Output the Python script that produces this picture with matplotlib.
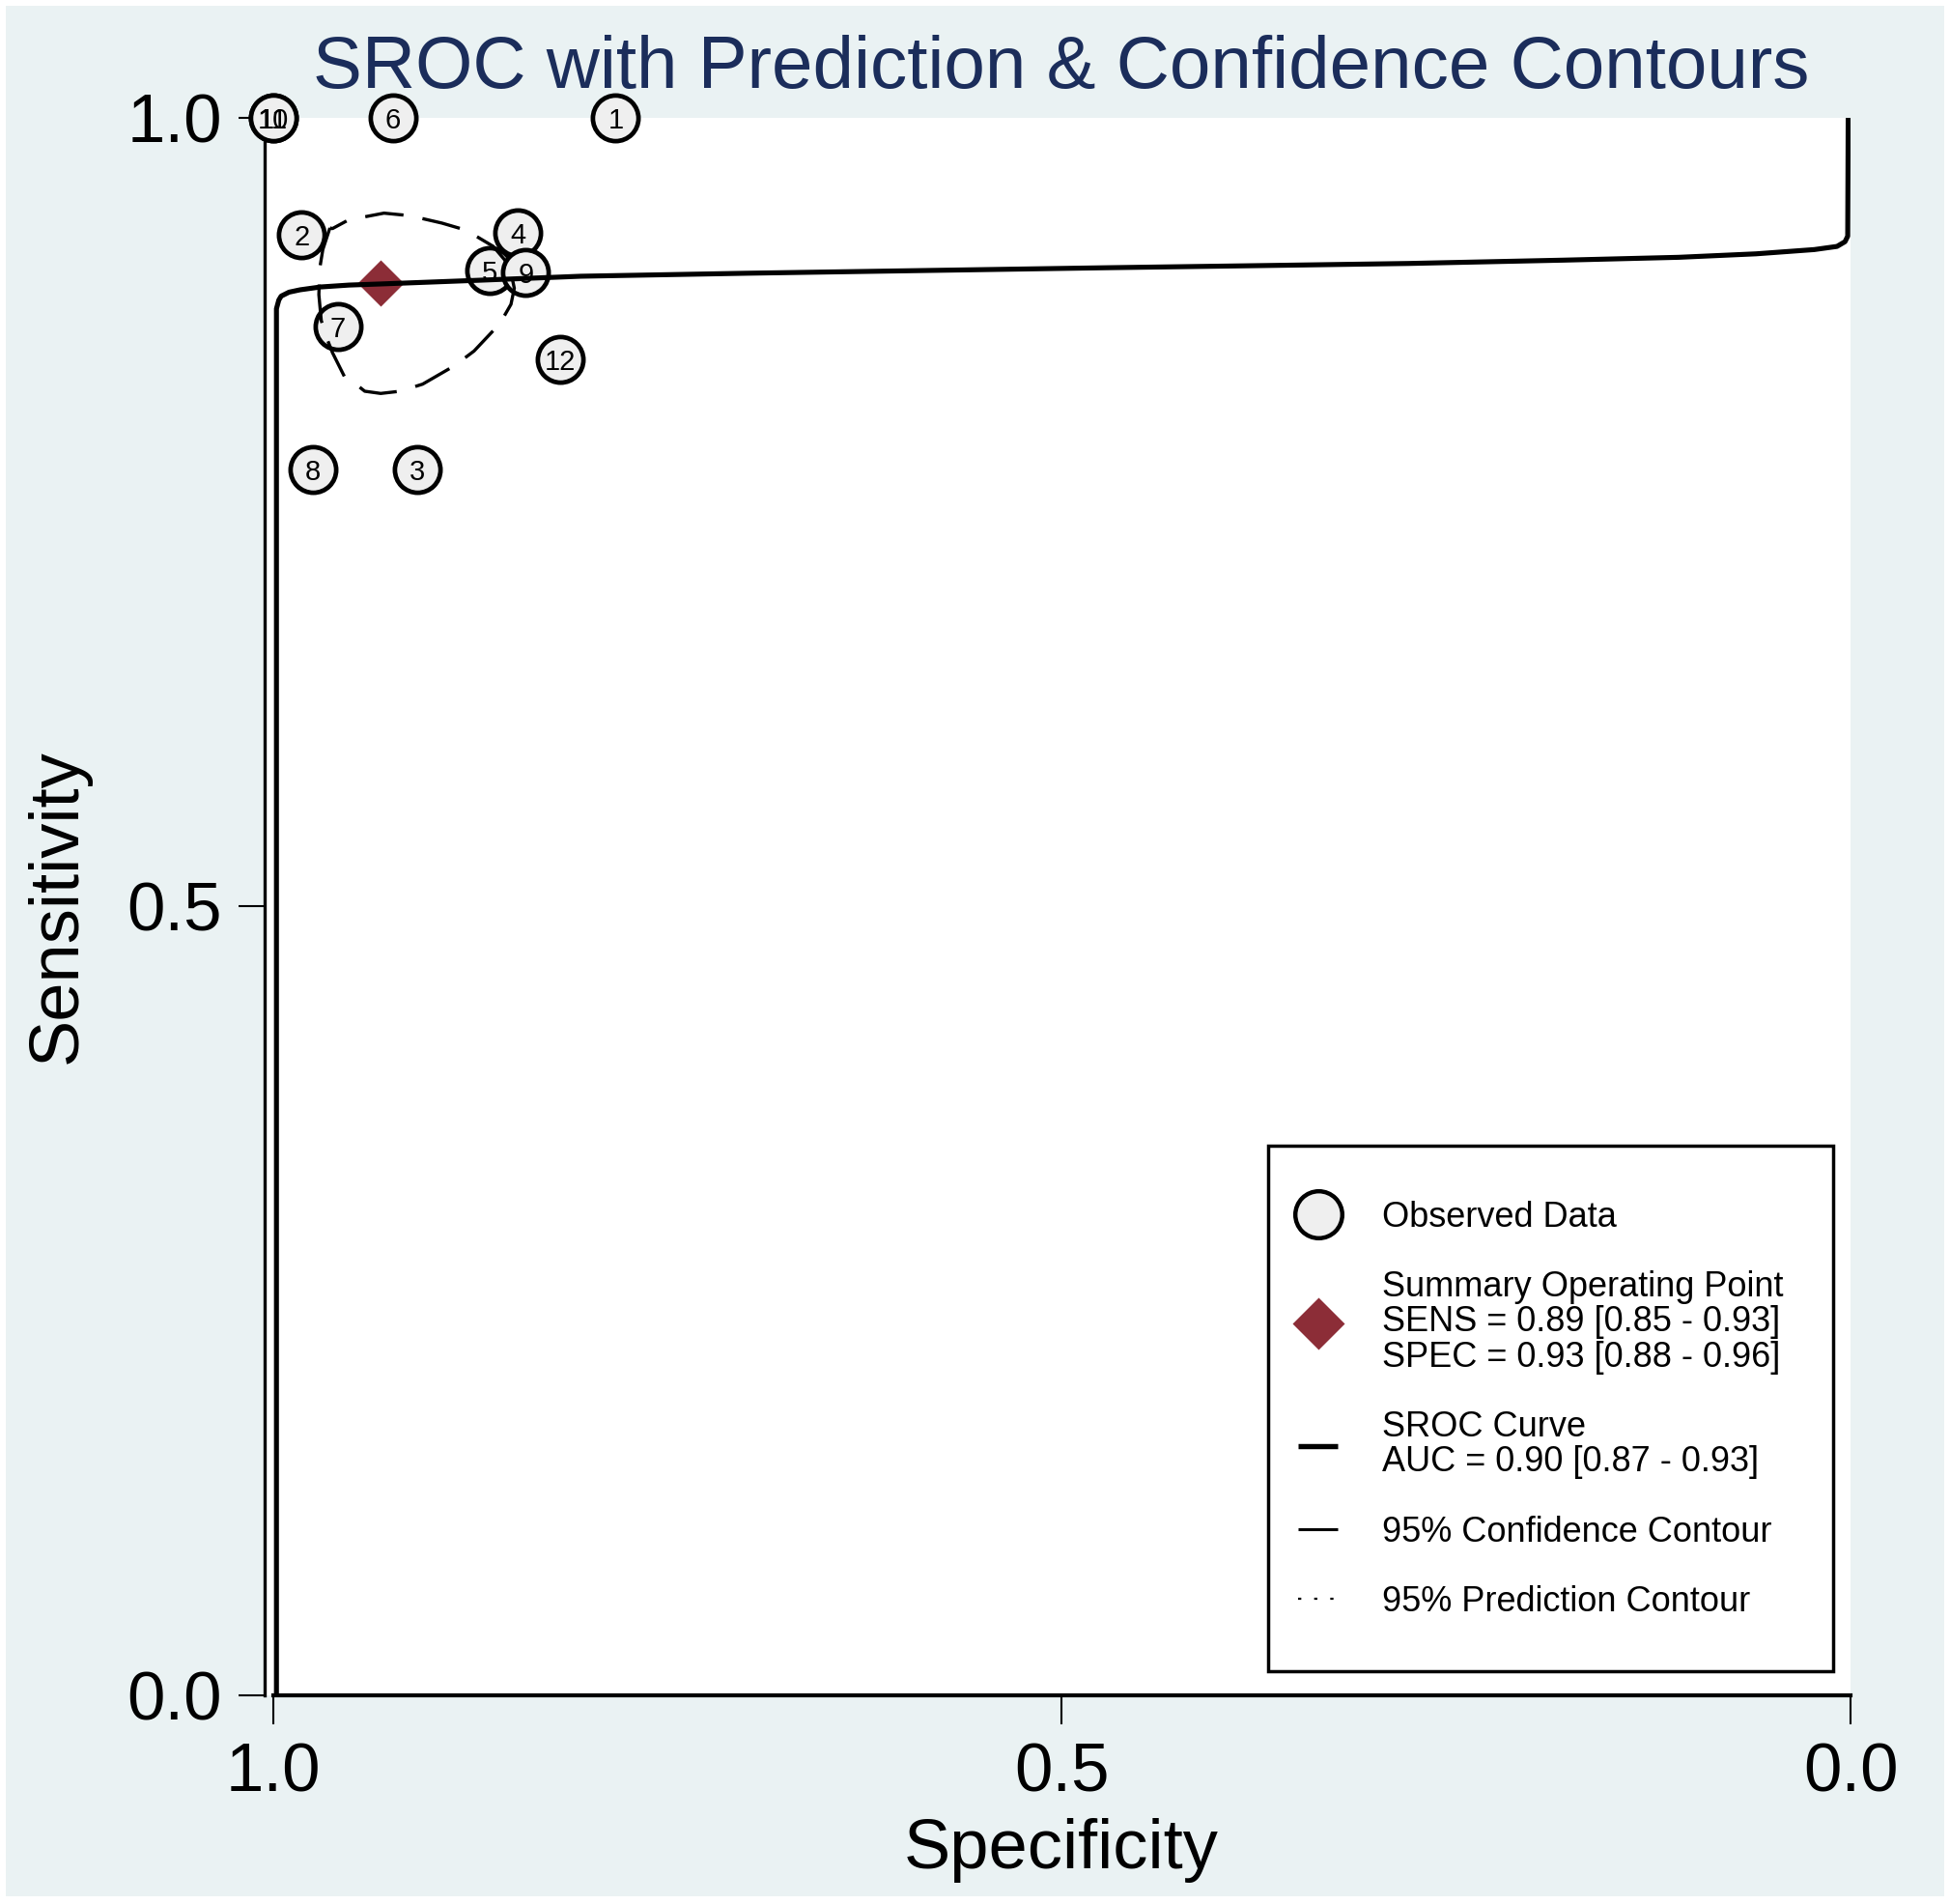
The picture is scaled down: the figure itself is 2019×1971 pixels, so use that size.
import matplotlib.pyplot as plt
from matplotlib.lines import Line2D
from matplotlib.patches import Rectangle

plt.rcParams['font.family'] = ['Liberation Sans', 'DejaVu Sans']

# observed studies (specificity, sensitivity)
study_ids = ['1', '2', '3', '4', '5', '6', '7', '8', '9', '10', '11', '12']
study_spec = [0.783, 0.982, 0.909, 0.845, 0.863, 0.924, 0.959, 0.975, 0.840, 1.000, 1.000, 0.818]
study_sens = [1.000, 0.926, 0.777, 0.927, 0.903, 1.000, 0.868, 0.777, 0.902, 1.000, 1.000, 0.847]

# summary operating point
summary_spec = 0.932
summary_sens = 0.895

# SROC curve
sroc_spec = [0.998, 0.998, 0.9965, 0.995, 0.990, 0.983, 0.970, 0.952, 0.932, 0.871,
             0.805, 0.700, 0.471, 0.377, 0.280, 0.182, 0.109, 0.060, 0.023, 0.0086,
             0.0035, 0.0018, 0.0015]
sroc_sens = [0.000, 0.879, 0.8845, 0.887, 0.8895, 0.891, 0.8928, 0.894, 0.8947, 0.897,
             0.8996, 0.9015, 0.905, 0.9063, 0.9077, 0.9098, 0.9116, 0.9138, 0.9165, 0.9185,
             0.9215, 0.925, 1.000]

# 95% confidence contour
conf_spec = [0.9641, 0.9686, 0.9706, 0.9711, 0.9696, 0.9665, 0.9625, 0.9543, 0.9482, 0.9420,
             0.9319, 0.9196, 0.9053, 0.8849, 0.8727, 0.8564, 0.8493, 0.8472, 0.8502, 0.8605,
             0.8778, 0.8931, 0.9135, 0.9298, 0.9523, 0.9625, 0.9641]
conf_sens = [0.9302, 0.9165, 0.9043, 0.8879, 0.8716, 0.8614, 0.8512, 0.8348, 0.8316, 0.8267,
             0.8253, 0.8267, 0.8312, 0.8430, 0.8522, 0.8695, 0.8818, 0.8920, 0.9063, 0.9185,
             0.9288, 0.9333, 0.9380, 0.9396, 0.9353, 0.9298, 0.9302]

legend_labels = ['Observed Data',
                 'Summary Operating Point\nSENS = 0.89 [0.85 - 0.93]\nSPEC = 0.93 [0.88 - 0.96]',
                 'SROC Curve\nAUC = 0.90 [0.87 - 0.93]',
                 '95% Confidence Contour',
                 '95% Prediction Contour']

bg = '#EAF2F3'
diamond_col = '#8C2D37'
title_col = '#1B2D5B'

fig = plt.figure(figsize=(20.19, 19.71), dpi=100)
fig.add_artist(Rectangle((0.003, 0.004), 0.994, 0.993, transform=fig.transFigure,
                         facecolor=bg, edgecolor='none', zorder=-5))
ax = fig.add_axes([0.1357, 0.1096, 0.8133, 0.8285])
ax.set_facecolor('white')
ax.set_xlim(1.0055, 0.0)
ax.set_ylim(0, 1)

ax.spines['top'].set_visible(False)
ax.spines['right'].set_visible(False)
ax.spines['bottom'].set_bounds(0.0, 1.0)
ax.spines['bottom'].set_linewidth(3)
ax.spines['left'].set_linewidth(2.4)

ax.set_xticks([1.0, 0.5, 0.0])
ax.set_xticklabels(['1.0', '0.5', '0.0'])
ax.set_yticks([0.0, 0.5, 1.0])
ax.set_yticklabels(['0.0', '0.5', '1.0'])
ax.tick_params(axis='x', length=21.6, width=1.5, pad=13, labelsize=51)
ax.tick_params(axis='y', length=19.5, width=1.5, pad=12, labelsize=51)

ax.set_xlabel('Specificity', fontsize=52)
ax.set_ylabel('Sensitivity', fontsize=52)
ax.xaxis.set_label_coords(0.502, -0.078)
ax.yaxis.set_label_coords(-0.110, 0.5)

# observed data
ax.plot(study_spec, study_sens, ls='none', marker='o', ms=34, mfc='#efefef',
        mec='black', mew=3.4, clip_on=False, zorder=3)
for sid, sx, sy in zip(study_ids, study_spec, study_sens):
    ax.text(sx, sy, sid, ha='center', va='center_baseline', fontsize=21,
            zorder=4, clip_on=False)

ax.plot([summary_spec], [summary_sens], ls='none', marker='D', ms=24,
        color=diamond_col, mec='none', zorder=4)

ax.plot(sroc_spec, sroc_sens, color='black', lw=3.7, zorder=5,
        solid_joinstyle='round', solid_capstyle='butt')
ax.plot(conf_spec, conf_sens, color='black', lw=2.4, dashes=(12, 6), zorder=5)

ax.text(0.502, 1.019, 'SROC with Prediction & Confidence Contours', transform=ax.transAxes,
        ha='center', va='baseline', fontsize=55, color=title_col)

# legend
handles = [
    Line2D([], [], ls='none', marker='o', ms=35, mfc='#efefef', mec='black', mew=3.2),
    Line2D([], [], ls='none', marker='D', ms=27, color=diamond_col, mec='none'),
    Line2D([], [], color='black', lw=3.9, solid_capstyle='butt'),
    Line2D([], [], color='black', lw=2.2, solid_capstyle='butt'),
    Line2D([], [], color='black', lw=1.6, dashes=(1.5, 6)),
]
ax.add_patch(Rectangle((0.6328, 0.0153), 0.3562, 0.3331, transform=ax.transAxes,
                       facecolor='white', edgecolor='black', lw=2.5, zorder=6))
leg = ax.legend(handles, legend_labels, loc='upper left', bbox_to_anchor=(0.6516, 0.3136),
                borderaxespad=0, borderpad=0, frameon=False, fontsize=26,
                handlelength=1.15, handletextpad=1.26, labelspacing=1.03)
leg.set_zorder(7)
for t in leg.get_texts():
    t.set_linespacing(1.05)

plt.savefig('out.png', dpi=100)
plt.close()
